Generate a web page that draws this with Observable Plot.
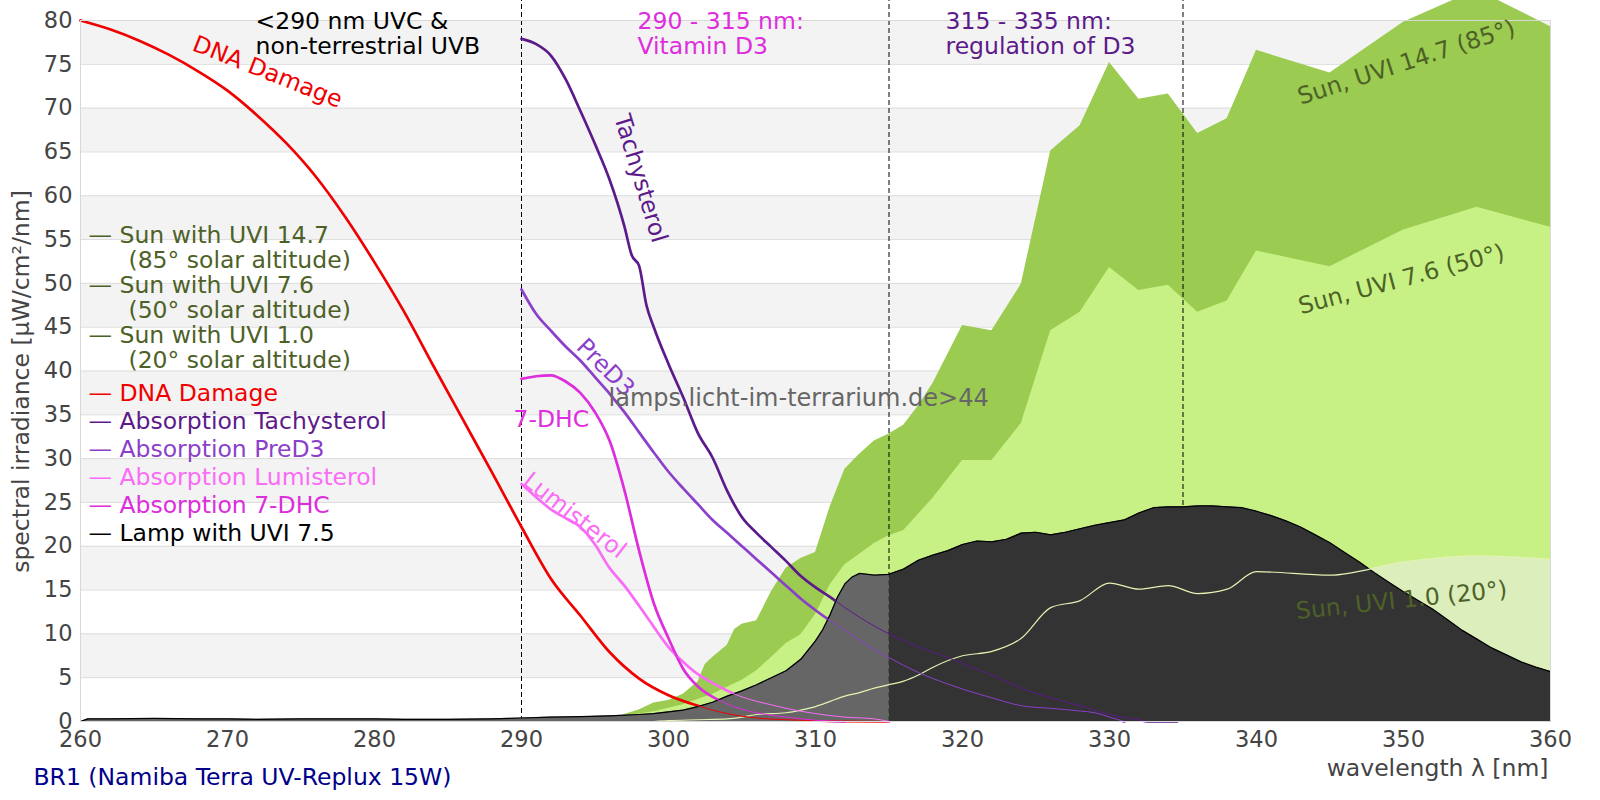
<!DOCTYPE html>
<html>
<head>
<meta charset="utf-8">
<script src="https://cdn.jsdelivr.net/npm/d3@7"></script>
<script src="https://cdn.jsdelivr.net/npm/@observablehq/plot@0.6"></script>
<style>
  html, body { margin: 0; padding: 0; background: #fff; }
  #chart svg { display: block; }
</style>
</head>
<body>
<div id="chart"></div>
<script>
// ---------- data ----------
const xTicks = [260, 270, 280, 290, 300, 310, 320, 330, 340, 350, 360];
const yTicks = [0, 5, 10, 15, 20, 25, 30, 35, 40, 45, 50, 55, 60, 65, 70, 75, 80];
const bandStarts = [5, 15, 25, 35, 45, 55, 65, 75];
const regionLimits = [290, 315, 335];

const sun147Wl  = [296.5, 297, 298, 299, 300, 301, 302, 302.5, 303, 304, 304.5, 305, 306, 307, 308, 309, 310, 311, 312, 313, 314, 315, 316, 317, 318, 320, 322, 324, 326, 328, 330, 332, 334, 336, 338, 340, 345, 350, 355, 360];
const sun147Val = [0.2, 0.8, 1.3, 2.1, 2.4, 3.1, 4.5, 6.5, 7.3, 8.7, 10.5, 11.1, 11.5, 14.8, 17.5, 18.6, 19.3, 24.5, 28.8, 30.5, 32.0, 32.8, 33.8, 36.0, 38.6, 45.2, 44.6, 49.9, 65.1, 68.0, 75.2, 71.0, 71.6, 67.1, 68.8, 76.6, 74.0, 79.8, 83.5, 79.3];

const sun76Wl  = [293, 294, 296, 297, 299, 300, 301, 302, 303, 304, 305, 306, 307, 308, 309, 310, 311, 312, 313, 314, 315, 316, 318, 320, 322, 324, 326, 328, 330, 332, 334, 336, 338, 340, 345, 350, 355, 360];
const sun76Val = [0, 0.2, 0.4, 0.6, 1.1, 1.5, 1.9, 2.5, 3.1, 3.9, 4.7, 5.8, 7.3, 8.9, 9.9, 12.2, 15.6, 17.9, 19.1, 20.3, 21.2, 21.8, 25.5, 29.8, 29.8, 34.0, 44.6, 46.7, 51.8, 49.2, 49.8, 46.7, 48.0, 53.7, 51.9, 56.1, 58.7, 56.4];

const sun10Wl  = [299, 300, 302, 304, 305, 306, 308, 309, 310, 311, 312, 313, 314, 315, 316, 317, 318, 320, 322, 324, 326, 328, 330, 332, 334, 336, 338, 340, 345, 350, 355, 360];
const sun10Val = [0, 0.1, 0.2, 0.3, 0.5, 0.8, 1.0, 1.3, 1.7, 2.3, 2.9, 3.3, 3.8, 4.2, 4.6, 5.3, 6.2, 7.5, 8.0, 9.5, 13.0, 13.8, 15.8, 15.1, 15.5, 14.6, 15.1, 17.1, 16.7, 18.2, 18.9, 18.5];

const lampWl  = [260, 260.5, 262, 265, 268, 270, 272, 275, 278, 280, 282, 285, 288, 290, 292, 294, 296, 298, 299, 300, 301, 302, 303, 304, 305, 306, 307, 308, 309, 310, 310.5, 311, 311.5, 312, 312.5, 313, 314, 315, 316, 317, 318, 319, 320, 321, 322, 323, 324, 325, 326, 327, 328, 329, 330, 331, 332, 333, 334, 335, 336, 337, 338, 339, 340, 341, 342, 343, 344, 345, 346, 347, 348, 349, 350, 351, 352, 353, 354, 355, 356, 357, 358, 359, 360];
const lampVal = [0, 0.3, 0.3, 0.35, 0.3, 0.3, 0.25, 0.3, 0.3, 0.3, 0.25, 0.25, 0.3, 0.4, 0.5, 0.55, 0.65, 0.8, 0.9, 1.1, 1.3, 1.7, 2.2, 2.9, 3.5, 4.2, 5.0, 5.8, 7.1, 9.2, 10.5, 12.2, 14.2, 15.7, 16.5, 16.9, 16.7, 16.8, 17.4, 18.4, 19.0, 19.5, 20.2, 20.6, 20.5, 20.8, 21.5, 21.6, 21.3, 21.6, 22.0, 22.4, 22.7, 23.0, 23.8, 24.4, 24.5, 24.5, 24.6, 24.6, 24.5, 24.4, 24.0, 23.5, 22.9, 22.2, 21.3, 20.4, 19.3, 18.2, 17.0, 15.9, 14.8, 13.8, 12.8, 11.6, 10.4, 9.4, 8.4, 7.6, 6.8, 6.2, 5.7];

const dnaWl  = [260, 262, 264, 266, 268, 270, 272, 274, 276, 278, 280, 282, 284, 286, 288, 290, 292, 294, 296, 298, 300, 302, 304, 306, 308, 310, 312, 315];
const dnaVal = [80, 79, 77.7, 76.1, 74.2, 72, 69.2, 66, 62.2, 57.6, 52.4, 46.8, 40.6, 34.5, 28.4, 22.2, 16.3, 12.1, 7.9, 4.9, 3.0, 1.8, 0.9, 0.4, 0.2, 0.1, 0.05, 0];

const tachyWl  = [290, 291, 292, 293, 294, 295, 296, 297, 297.5, 298, 298.5, 299, 300, 301, 302, 303, 304, 305, 306, 307, 308, 309, 310, 311, 312, 313, 314, 315, 316, 317, 318, 319, 320, 322, 324, 326, 328, 330, 332, 332.6, 334.6];
const tachyVal = [77.9, 77.3, 76.0, 73.3, 69.7, 65.9, 61.8, 56.5, 53.2, 52.0, 47.5, 45.0, 40.8, 37.0, 32.9, 30.1, 26.3, 23.3, 21.5, 19.9, 18.3, 16.6, 15.3, 14.2, 13.0, 11.9, 10.9, 10.0, 9.2, 8.5, 7.9, 7.3, 6.6, 5.3, 3.8, 2.7, 1.8, 0.8, 0.2, 0, 0];

const preD3Wl  = [290, 291, 292, 293, 294, 295, 296, 297, 298, 299, 300, 301, 302, 303, 304, 305, 306, 307, 308, 309, 310, 311, 312, 313, 314, 315, 316, 317, 318, 320, 322, 324, 326, 328, 329, 330, 331];
const preD3Val = [49.3, 46.5, 44.6, 42.8, 41.2, 39.3, 37.4, 35.3, 33.0, 30.7, 28.5, 26.6, 24.8, 23.0, 21.5, 20.0, 18.5, 17.0, 15.5, 14.0, 12.7, 11.5, 10.4, 9.3, 8.2, 7.3, 6.4, 5.6, 4.9, 3.7, 2.7, 1.8, 1.5, 1.2, 1.0, 0.5, 0];

const lumiWl  = [290, 291, 292, 293, 294, 295, 296, 297, 298, 299, 300, 301, 302, 303, 304, 305, 306, 307, 308, 310, 312, 314, 315];
const lumiVal = [27.1, 25.6, 24.2, 23.2, 22.2, 20.2, 17.5, 15.5, 13.2, 10.8, 8.5, 6.8, 5.4, 4.4, 3.5, 2.8, 2.3, 1.9, 1.5, 0.9, 0.5, 0.3, 0];

const dhcWl  = [290, 291, 292, 293, 294, 295, 296, 297, 298, 299, 300, 301, 302, 303, 304, 305, 306, 308, 310, 312];
const dhcVal = [39.1, 39.4, 39.5, 38.8, 37.5, 35.3, 32.0, 26.4, 19.5, 13.5, 9.5, 6.0, 4.0, 2.8, 2.0, 1.4, 1.0, 0.5, 0.15, 0];

const legendSun = [
  ["— Sun with UVI 14.7", "(85° solar altitude)"],
  ["— Sun with UVI 7.6", "(50° solar altitude)"],
  ["— Sun with UVI 1.0", "(20° solar altitude)"]
];
const legendOther = [
  ["— DNA Damage", "#f00000"],
  ["— Absorption Tachysterol", "#5c1a8a"],
  ["— Absorption PreD3", "#8b3fca"],
  ["— Absorption Lumisterol", "#fa6cf6"],
  ["— Absorption 7-DHC", "#dd2ddd"],
  ["— Lamp with UVI 7.5", "#000000"]
];

// ---------- helpers ----------
const rows = (wl, v) => wl.map((w, i) => ({wl: w, v: v[i]}));
const sun147 = rows(sun147Wl, sun147Val);
const sun76 = rows(sun76Wl, sun76Val);
const sun10 = rows(sun10Wl, sun10Val);
const lamp = rows(lampWl, lampVal);
const dna = rows(dnaWl, dnaVal);
const tachy = rows(tachyWl, tachyVal);
const preD3 = rows(preD3Wl, preD3Val);
const lumi = rows(lumiWl, lumiVal);
const dhc = rows(dhcWl, dhcVal);

const C = {
  sun147: "#9bcb50", sun76: "#c7f184", sun10: "#dbeebb", sun10line: "#e2f2b2",
  sunText: "#4d6127", dna: "#f00000", tachy: "#5c1a8a", preD3: "#8b3fca",
  lumi: "#fa6cf6", dhc: "#dd2ddd", axis: "#444444"
};

const ML = 80, MT = 20;
// text placed relative to the frame's top-left corner (pixels)
const T = (text, px, py, o = {}) => Plot.text([text], {
  frameAnchor: "top-left", dx: px - ML, dy: py - MT, text: d => d,
  fontSize: 23.5, fontFamily: "DejaVu Sans", lineAnchor: "middle", textAnchor: "middle", ...o
});

const curves = [[dna, C.dna], [tachy, C.tachy], [preD3, C.preD3], [lumi, C.lumi], [dhc, C.dhc]];

const marks = [
  Plot.rect(bandStarts, {y1: d => d, y2: d => d + 5, fill: "#f3f3f3"}),
  Plot.gridY(yTicks, {stroke: "#dcdcdc", strokeOpacity: 1}),
  Plot.areaY(sun147, {x: "wl", y: "v", fill: C.sun147}),
  Plot.areaY(sun76, {x: "wl", y: "v", fill: C.sun76}),
  Plot.areaY(sun10, {x: "wl", y: "v", fill: C.sun10, curve: "monotone-x"}),
  Plot.ruleX(regionLimits, {y1: 0, y2: 82.4, stroke: "#000", strokeWidth: 1, strokeDasharray: "5,3"}),
  ...curves.map(([d, c]) => Plot.lineY(d, {x: "wl", y: "v", stroke: c, strokeWidth: 2.7, curve: "monotone-x"})),
  Plot.areaY(lamp.filter(d => d.wl <= 315), {x: "wl", y: "v", fill: "#666666"}),
  Plot.areaY(lamp.filter(d => d.wl >= 315), {x: "wl", y: "v", fill: "#333333"}),
  Plot.lineY(lamp, {x: "wl", y: "v", stroke: "#000", strokeWidth: 1.2}),
  Plot.lineY(sun10, {x: "wl", y: "v", stroke: C.sun10line, strokeWidth: 1.2, curve: "monotone-x"}),
  ...curves.map(([d, c]) => Plot.lineY(d, {x: "wl", y: "v", stroke: c, strokeWidth: 1, curve: "monotone-x"})),
  Plot.frame({stroke: "#d8d8d8"}),
  Plot.axisX({ticks: xTicks, tickSize: 0, tickPadding: 10, fontSize: 22.5, fill: C.axis, label: null, tickFormat: d => String(d)}),
  Plot.axisY({ticks: yTicks, tickSize: 0, tickPadding: 8, fontSize: 22.5, fill: C.axis, label: null, tickFormat: d => String(d)}),

  // axis titles & caption
  T("spectral irradiance [µW/cm²/nm]", 21, 381, {rotate: -90, fill: C.axis}),
  T("wavelength λ [nm]", 1548, 768, {textAnchor: "end", fill: C.axis}),
  T("BR1 (Namiba Terra UV-Replux 15W)", 33, 777, {textAnchor: "start", fill: "#00008b"}),

  // region annotations
  T("<290 nm UVC &\nnon-terrestrial UVB", 255, 10.5, {textAnchor: "start", lineAnchor: "top", lineHeight: 1.064, fill: "#000"}),
  T("290 - 315 nm:\nVitamin D3", 637, 10.5, {textAnchor: "start", lineAnchor: "top", lineHeight: 1.064, fill: C.dhc}),
  T("315 - 335 nm:\nregulation of D3", 945, 10.5, {textAnchor: "start", lineAnchor: "top", lineHeight: 1.064, fill: C.tachy}),

  // curve labels
  T("DNA Damage", 267, 71.5, {rotate: 21.5, fill: C.dna}),
  T("Tachysterol", 640, 178, {rotate: 73, fill: C.tachy}),
  T("PreD3", 605, 367, {rotate: 45, fill: C.preD3}),
  T("7-DHC", 513, 419, {textAnchor: "start", fill: C.dhc}),
  T("Lumisterol", 574, 515, {rotate: 38, fill: C.lumi}),
  T("Sun, UVI 14.7 (85°)", 1406, 62, {rotate: -18, fill: C.sunText}),
  T("Sun, UVI 7.6 (50°)", 1401, 279, {rotate: -15, fill: C.sunText}),
  T("Sun, UVI 1.0 (20°)", 1401, 600, {rotate: -6, fill: C.sunText}),
  T("lamps.licht-im-terrarium.de>44", 608, 398, {textAnchor: "start", fill: "#666666", fontSize: 24}),
];

// legend
legendSun.forEach(([a, b], i) => {
  marks.push(T(a, 88, 235 + 50 * i, {textAnchor: "start", fill: C.sunText}));
  marks.push(T(b, 128, 260 + 50 * i, {textAnchor: "start", fill: C.sunText}));
});
legendOther.forEach(([a, c], i) => {
  marks.push(T(a, 88, 393 + 28 * i, {textAnchor: "start", fill: c}));
});

const chart = Plot.plot({
  width: 1600,
  height: 800,
  marginLeft: ML, marginRight: 50, marginTop: MT, marginBottom: 79,
  x: {domain: [260, 360]},
  y: {domain: [0, 80]},
  style: {fontFamily: "DejaVu Sans", background: "#ffffff", overflow: "visible"},
  marks
});
document.getElementById("chart").appendChild(chart);
</script>
</body>
</html>
